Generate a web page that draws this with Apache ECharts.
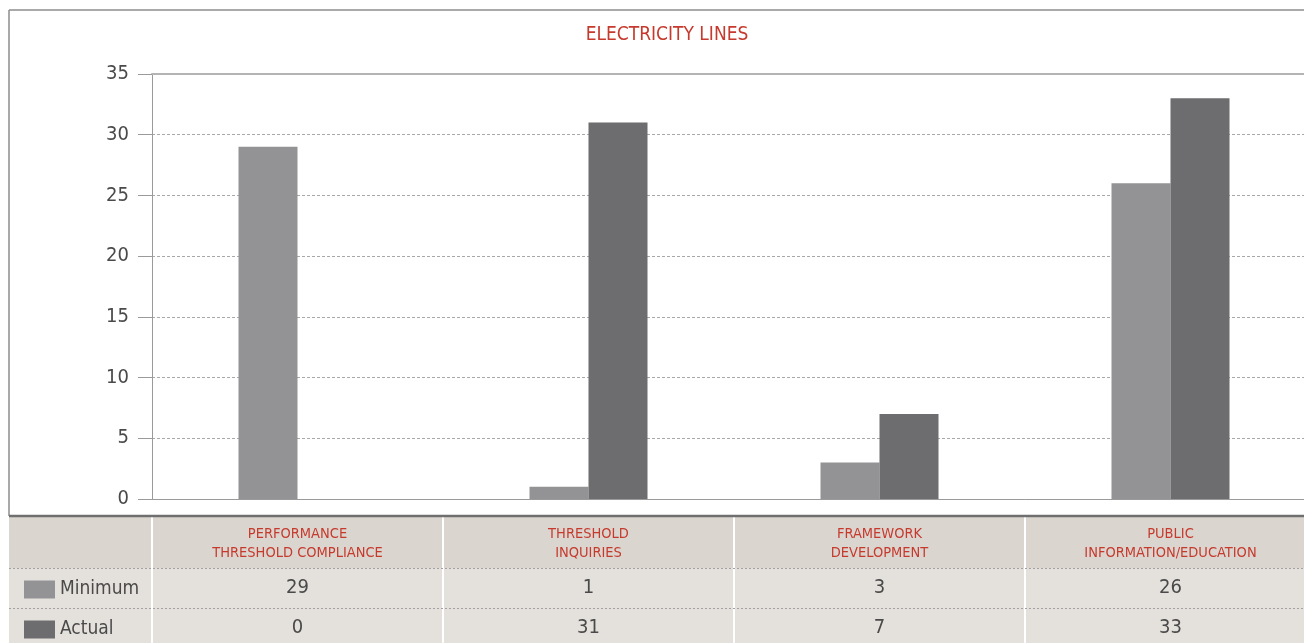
<!DOCTYPE html>
<html>
<head>
<meta charset="utf-8">
<script src="https://cdn.jsdelivr.net/npm/echarts@6/dist/echarts.min.js"></script>
<style>
  html, body { margin: 0; padding: 0; background: #fff; overflow: hidden; }
  #box { width: 1316px; height: 643px; }
</style>
</head>
<body>
<div id="box"></div>
<script>
var categories = ['PERFORMANCE\nTHRESHOLD COMPLIANCE', 'THRESHOLD\nINQUIRIES', 'FRAMEWORK\nDEVELOPMENT', 'PUBLIC\nINFORMATION/EDUCATION'];
var seriesNames = ['Minimum', 'Actual'];
var minimum = [29, 1, 3, 26];
var actual = [0, 31, 7, 33];
var yTicks = [0, 5, 10, 15, 20, 25, 30, 35];

var FONT = '"DejaVu Sans Condensed", Roboto, sans-serif';
var RED = '#c63a2e';
var TXT = '#4a4a4a';

// layout of the plot / table (div is a bit wider than the window, the right edge is cut off)
var gLeft = 152, gTop = 74, gBottom = 499, catW = 291;
var W = 1316, H = 643;

var myChart = echarts.init(document.getElementById('box'));

var seps = [];
for (var i = 0; i < categories.length; i++) {
  seps.push({
    type: 'line', z: -5,
    shape: { x1: gLeft + i * catW, y1: 517, x2: gLeft + i * catW, y2: H },
    style: { stroke: '#ffffff', lineWidth: 2 }
  });
}

function legendFor(name, top) {
  return {
    data: [name],
    left: 24, top: top, padding: 0,
    icon: 'rect', selectedMode: false,
    itemWidth: 31, itemHeight: 18,
    textStyle: { color: TXT, fontSize: 19, padding: [3, 0, 0, 0], fontFamily: FONT }
  };
}

var option = {
  animation: false,
  textStyle: { fontFamily: FONT },
  title: {
    text: 'ELECTRICITY LINES',
    left: 662, top: 21, textAlign: 'center',
    textStyle: { color: RED, fontSize: 19, fontWeight: 'normal', fontFamily: FONT }
  },
  legend: [legendFor(seriesNames[0], 580), legendFor(seriesNames[1], 620)],
  grid: { left: gLeft, top: gTop, right: W - gLeft - 4 * catW, bottom: H - gBottom },
  xAxis: [
    {
      type: 'category', data: categories, position: 'bottom',
      axisLine: { lineStyle: { color: '#9a9a9a', width: 1 } },
      axisTick: { length: 17, lineStyle: { color: '#9a9a9a' } },
      axisLabel: { interval: 0, margin: 26, color: RED, fontSize: 14.5, lineHeight: 19, fontFamily: FONT }
    },
    {
      type: 'category', data: categories, position: 'top',
      axisLine: { lineStyle: { color: '#b4b4b4', width: 2 } },
      axisTick: { show: false }, axisLabel: { show: false }
    },
    {
      type: 'category', data: categories, position: 'bottom',
      axisLine: { show: false }, axisTick: { show: false },
      axisLabel: {
        interval: 0, margin: 79, color: TXT, fontSize: 20, lineHeight: 20, fontFamily: FONT,
        formatter: function (v, idx) { return String(minimum[idx]); }
      }
    },
    {
      type: 'category', data: categories, position: 'bottom',
      axisLine: { show: false }, axisTick: { show: false },
      axisLabel: {
        interval: 0, margin: 119, color: TXT, fontSize: 20, lineHeight: 20, fontFamily: FONT,
        formatter: function (v, idx) { return String(actual[idx]); }
      }
    }
  ],
  yAxis: {
    type: 'value',
    min: yTicks[0], max: yTicks[yTicks.length - 1], interval: 5,
    axisLine: { show: true, lineStyle: { color: '#9a9a9a' } },
    axisTick: { show: true, length: 14, lineStyle: { color: '#9a9a9a' } },
    axisLabel: { margin: 23, color: TXT, fontSize: 20, fontFamily: FONT },
    splitLine: { lineStyle: { color: '#a8a8a8', type: [3, 2] } }
  },
  series: [
    {
      name: seriesNames[0], type: 'bar', data: minimum,
      barWidth: 59, barGap: '0%',
      itemStyle: { color: '#939396' }
    },
    {
      name: seriesNames[1], type: 'bar', data: actual,
      barWidth: 59, barGap: '0%',
      itemStyle: { color: '#6d6d6f' }
    }
  ],
  graphic: [
    // outer frame
    { type: 'line', shape: { x1: 9, y1: 10, x2: W, y2: 10 }, style: { stroke: '#8c8c8c', lineWidth: 1.5 } },
    { type: 'line', shape: { x1: 9, y1: 10, x2: 9, y2: 516 }, style: { stroke: '#8c8c8c', lineWidth: 1.5 } },
    // table backgrounds
    { type: 'rect', z: -10, shape: { x: 9, y: 516, width: W - 9, height: 52 }, style: { fill: '#dbd5cf' } },
    { type: 'rect', z: -10, shape: { x: 9, y: 568, width: W - 9, height: H - 568 }, style: { fill: '#e4e0dc' } },
    { type: 'line', shape: { x1: 9, y1: 516, x2: W, y2: 516 }, style: { stroke: '#6f6f6f', lineWidth: 2.5 } },
    { type: 'line', shape: { x1: 9, y1: 568.5, x2: W, y2: 568.5 }, style: { stroke: '#a2a2a2', lineWidth: 1, lineDash: [2, 2] } },
    { type: 'line', shape: { x1: 9, y1: 608.5, x2: W, y2: 608.5 }, style: { stroke: '#a2a2a2', lineWidth: 1, lineDash: [2, 2] } }
  ].concat(seps)
};

myChart.setOption(option);
</script>
</body>
</html>
